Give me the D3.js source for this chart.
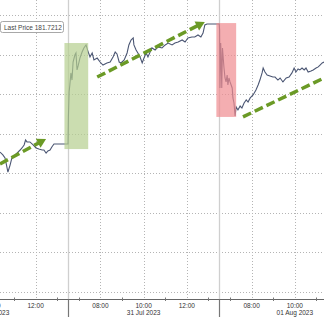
<!DOCTYPE html>
<html>
<head>
<meta charset="utf-8">
<script src="https://cdn.jsdelivr.net/npm/d3@7"></script>
<style>
  html, body { margin: 0; padding: 0; background: #fff; }
  svg { display: block; font-family: "Liberation Sans", Arial, sans-serif; }
</style>
</head>
<body>
<svg id="chart"></svg>
<script>
// --- data ---
const sessionDates = ["28 Jul 2023", "31 Jul 2023", "01 Aug 2023"];
const sessionOpen = "06:30";
const sessionClose = "13:30";
const labelTimes = ["08:00", "10:00", "12:00"];
const minorTimes = ["07:00", "09:00", "11:00", "13:00"];
const dateLabelTime = "10:00";
const priceTicks = [182.0, 181.75, 181.5, 181.25, 181.0, 180.75, 180.5, 180.25];
const lastPrice = 181.7212;

const day1Times = ["10:21","10:29","10:35","10:43","10:49","10:54","11:03","11:11","11:17","11:22","11:28","11:32","11:36","11:44","11:53","12:01","12:09","12:18","12:23","12:29","12:34","12:40","12:45","12:51","13:30"];
const day1Prices = [181.134,181.116,181.097,181.008,181.052,181.097,181.116,181.134,181.147,181.160,181.179,181.210,181.198,181.198,181.179,181.160,181.153,181.147,181.147,181.128,181.141,181.147,181.166,181.185,181.185];

const day2Times = ["06:30","06:31","06:33","06:35","06:38","06:41","06:44","06:49","06:52","06:55","06:58","07:03","07:09","07:14","07:20","07:26","07:31","07:37","07:42","07:51","07:59","08:07","08:18","08:27","08:35","08:41","08:46","08:52","08:57","09:06","09:14","09:19","09:25","09:31","09:33","09:39","09:44","09:50","09:56","10:01","10:07","10:12","10:18","10:23","10:32","10:40","10:51","11:00","11:08","11:19","11:27","11:36","11:47","11:55","12:03","12:14","12:22","12:31","12:39","12:45","12:50","12:56","13:30"];
const day2Prices = [181.185,181.356,181.514,181.558,181.634,181.589,181.703,181.747,181.760,181.653,181.678,181.728,181.766,181.792,181.811,181.766,181.735,181.760,181.716,181.728,181.703,181.684,181.697,181.703,181.735,181.766,181.754,181.703,181.697,181.716,181.760,181.811,181.842,181.855,181.811,181.779,181.760,181.735,181.697,181.728,181.760,181.735,181.766,181.792,181.779,181.798,181.792,181.811,181.823,181.811,181.823,181.829,181.842,181.829,181.855,181.861,181.861,181.874,181.861,181.886,181.937,181.943,181.943];

const day3Times = ["06:30","06:31","06:32","06:34","06:35","06:37","06:39","06:43","06:46","06:49","06:52","06:54","06:57","07:00","07:06","07:08","07:11","07:14","07:17","07:22","07:28","07:33","07:39","07:45","07:50","07:56","08:04","08:12","08:18","08:23","08:29","08:32","08:37","08:43","08:51","08:59","09:05","09:13","09:19","09:27","09:36","09:44","09:52","09:58","10:03","10:09","10:14","10:20","10:26","10:31","10:37","10:45","10:51","10:59","11:05","11:10","11:16","11:21"];
const day3Prices = [181.943,181.905,181.539,181.823,181.760,181.539,181.792,181.672,181.602,181.577,181.621,181.558,181.602,181.577,181.539,181.476,181.444,181.362,181.419,181.400,181.425,181.412,181.444,181.463,181.450,181.476,181.495,181.526,181.558,181.589,181.634,181.665,181.640,181.621,181.615,181.608,181.608,181.589,181.602,181.577,181.602,181.608,181.634,181.665,181.640,181.659,181.653,181.665,181.653,181.665,181.640,181.646,181.653,181.665,181.672,181.684,181.697,181.703];

// highlight boxes [session, time]
const boxStart = [[0, "13:20"], [1, "13:22"]];
const boxEnd = [[1, "07:26"], [2, "07:17"]];
const boxHigh = [181.823, 181.949];
const boxLow = [181.153, 181.356];

// trend arrows [session, time, price]
const arrowFrom = [[0, "10:21", 181.059], [1, "07:51", 181.608], [2, "07:36", 181.356]];
const arrowTo = [[0, "12:29", 181.217], [1, "12:50", 181.956], [2, "12:00", 181.645]];

// --- setup ---
const width = 324, height = 317;
const axisY = 299.5;
const svg = d3.select("#chart").attr("width", width).attr("height", height);

const hours = t => { const [h, m] = t.split(":").map(Number); return h + m / 60; };
const sessionLength = hours(sessionClose) - hours(sessionOpen);
// continuous trading-time offset, gaps between sessions removed
const offset = (day, t) => day * sessionLength + hours(t) - hours(sessionOpen);

const series = [];
[[day1Times, day1Prices], [day2Times, day2Prices], [day3Times, day3Prices]].forEach(([ts, ps], day) => {
    ts.forEach((t, i) => series.push({ o: offset(day, t), v: ps[i] }));
});

const x = d3.scaleLinear().domain(d3.extent(series, d => d.o)).range([0, width]);
const y = d3.scaleLinear().domain([180.25, 182.0]).range([292, 15]);

// --- grid ---
const grid = svg.append("g");
grid.selectAll("line.hgrid").data(priceTicks).enter().append("line")
    .attr("x1", 0).attr("x2", width)
    .attr("y1", d => Math.round(y(d)) + 0.5).attr("y2", d => Math.round(y(d)) + 0.5)
    .attr("stroke", "#b4b4b4").attr("stroke-dasharray", "1,2");

// label ticks; keep only the ones that reach into the picture
const labelTicks = [];
sessionDates.forEach((date, day) => {
    labelTimes.forEach(t => labelTicks.push({ o: offset(day, t), t: t, date: t === dateLabelTime ? date : null }));
});
const visibleTicks = labelTicks.filter(d => x(d.o) > -20 && x(d.o) < width + 5);

grid.selectAll("line.vgrid").data(visibleTicks).enter().append("line")
    .attr("x1", d => Math.round(x(d.o)) + 0.5).attr("x2", d => Math.round(x(d.o)) + 0.5)
    .attr("y1", 0).attr("y2", axisY)
    .attr("stroke", "#b4b4b4").attr("stroke-dasharray", "1,2");

const separators = d3.range(1, sessionDates.length).map(day => offset(day, sessionOpen));
grid.selectAll("line.sep").data(separators).enter().append("line")
    .attr("x1", d => Math.round(x(d)) + 0.5).attr("x2", d => Math.round(x(d)) + 0.5)
    .attr("y1", 0).attr("y2", axisY)
    .attr("stroke", "#cfcfcf").attr("stroke-width", 1.3);

// --- price line ---
svg.append("path").datum(series)
    .attr("d", d3.line().x(d => x(d.o)).y(d => y(d.v)))
    .attr("fill", "none").attr("stroke", "#4b5673").attr("stroke-width", 1.1);

// --- highlight boxes ---
const boxFills = ["#b5cf8f", "#f08c90"];
boxStart.forEach((s, i) => {
    const x0 = x(offset(s[0], s[1])), x1 = x(offset(boxEnd[i][0], boxEnd[i][1]));
    svg.append("rect")
        .attr("x", x0).attr("y", y(boxHigh[i]))
        .attr("width", x1 - x0).attr("height", y(boxLow[i]) - y(boxHigh[i]))
        .attr("fill", boxFills[i]).attr("fill-opacity", 0.7);
});

// --- trend arrows ---
const arrowColor = "#6b9a26";
arrowFrom.forEach((a, i) => {
    const b = arrowTo[i];
    const x0 = x(offset(a[0], a[1])), y0 = y(a[2]);
    const x1 = x(offset(b[0], b[1])), y1 = y(b[2]);
    const len = Math.hypot(x1 - x0, y1 - y0);
    const ux = (x1 - x0) / len, uy = (y1 - y0) / len;
    const headLen = 9, headHalf = 5;
    const bx = x1 - ux * headLen, by = y1 - uy * headLen;
    svg.append("line")
        .attr("x1", x0).attr("y1", y0).attr("x2", bx + ux).attr("y2", by + uy)
        .attr("stroke", arrowColor).attr("stroke-width", 3.5)
        .attr("stroke-dasharray", "9,4");
    svg.append("path")
        .attr("d", `M${x1},${y1}L${bx - uy * headHalf},${by + ux * headHalf}L${bx + uy * headHalf},${by - ux * headHalf}Z`)
        .attr("fill", arrowColor);
});

// --- legend ---
const legend = svg.append("g");
legend.append("rect")
    .attr("x", 0.5).attr("y", 21.5).attr("width", 63).attr("height", 11).attr("rx", 2)
    .attr("fill", "#fff").attr("stroke", "#a8a8a8");
legend.append("text")
    .attr("x", 4).attr("y", 29.5)
    .attr("font-size", 6.5).attr("fill", "#444")
    .text(`Last Price ${lastPrice.toFixed(4)}`);

// --- x axis ---
const axis = svg.append("g");
axis.append("line")
    .attr("x1", 0).attr("x2", width).attr("y1", axisY).attr("y2", axisY)
    .attr("stroke", "#666");

const minorTicks = [];
sessionDates.forEach((date, day) => minorTimes.forEach(t => {
    if (hours(t) < hours(sessionClose)) minorTicks.push(offset(day, t));
}));
axis.selectAll("line.minor").data(minorTicks).enter().append("line")
    .attr("x1", d => Math.round(x(d)) + 0.5).attr("x2", d => Math.round(x(d)) + 0.5)
    .attr("y1", axisY - 2).attr("y2", axisY + 1.5)
    .attr("stroke", "#777");

axis.selectAll("line.sepTick").data(separators).enter().append("line")
    .attr("x1", d => Math.round(x(d)) + 0.5).attr("x2", d => Math.round(x(d)) + 0.5)
    .attr("y1", axisY).attr("y2", height)
    .attr("stroke", "#777").attr("stroke-width", 1.2);

axis.selectAll("text.time").data(visibleTicks).enter().append("text")
    .attr("x", d => x(d.o)).attr("y", 307.5)
    .attr("text-anchor", "middle").attr("font-size", 6.5).attr("fill", "#333")
    .text(d => d.t);

axis.selectAll("text.date").data(visibleTicks.filter(d => d.date)).enter().append("text")
    .attr("x", d => x(d.o)).attr("y", 315)
    .attr("text-anchor", "middle").attr("font-size", 6.5).attr("fill", "#333")
    .text(d => d.date);
</script>
</body>
</html>
